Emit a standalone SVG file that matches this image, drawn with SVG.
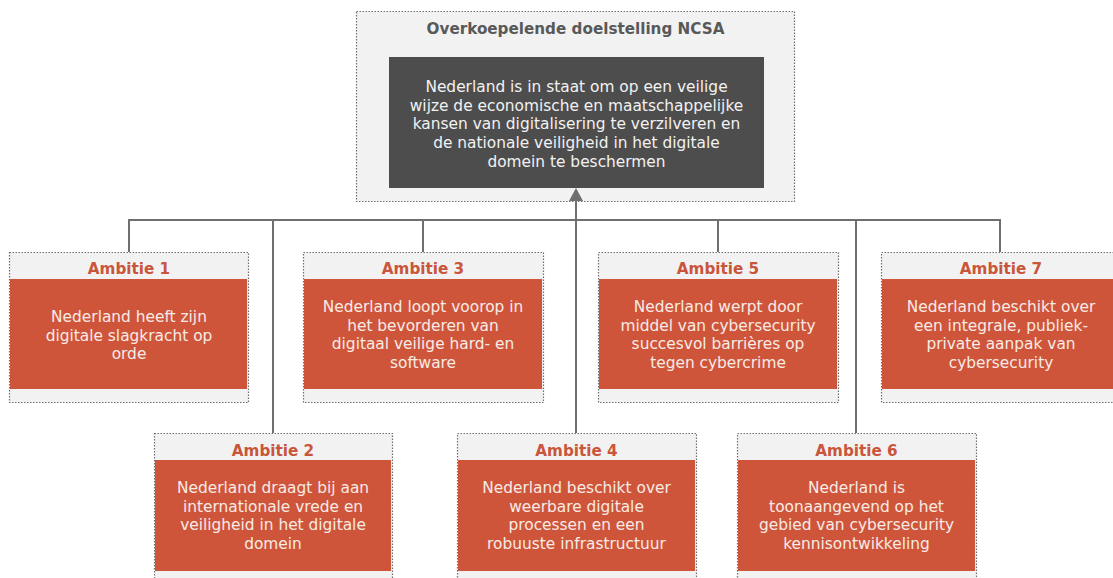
<svg xmlns="http://www.w3.org/2000/svg" width="1113" height="578" viewBox="0 0 1113 578">
<style>
.frame{fill:#f2f2f2;stroke:#6f6f6f;stroke-width:1.2;stroke-dasharray:1.5 1.5}
.org{fill:#cf553a}
.dark{fill:#4d4d4d}
.hd{font-family:"DejaVu Sans",Verdana,sans-serif;font-weight:bold;font-size:15.2px;fill:#c9553a;text-anchor:middle}
.ttl{font-family:"DejaVu Sans",Verdana,sans-serif;font-weight:bold;font-size:15.2px;fill:#595959;text-anchor:middle}
.bd{font-family:"DejaVu Sans",Verdana,sans-serif;font-size:15.4px;fill:#f7ebe6;text-anchor:middle}
.dk{font-family:"DejaVu Sans",Verdana,sans-serif;font-size:15.4px;fill:#f2f2f2;text-anchor:middle}
.ln{fill:none;stroke:#6f6f6f;stroke-width:2}
.ah{fill:#6f6f6f}
</style>
<g id="goal">
<rect class="frame" x="356.5" y="11.5" width="438" height="190"/>
<text class="ttl" x="575.5" y="34">Overkoepelende doelstelling NCSA</text>
<rect class="dark" x="389" y="57" width="375" height="131"/>
<text class="dk" x="576.5" y="92">Nederland is in staat om op een veilige</text>
<text class="dk" x="576.5" y="110.7">wijze de economische en maatschappelijke</text>
<text class="dk" x="576.5" y="129.4">kansen van digitalisering te verzilveren en</text>
<text class="dk" x="576.5" y="148.1">de nationale veiligheid in het digitale</text>
<text class="dk" x="576.5" y="166.8">domein te beschermen</text>
</g>
<g id="ambitie1">
<rect class="frame" x="9.5" y="252.5" width="239" height="150"/>
<text class="hd" x="129" y="274">Ambitie 1</text>
<rect class="org" x="10" y="279" width="237" height="110"/>
<text class="bd" x="129" y="322">Nederland heeft zijn</text>
<text class="bd" x="129" y="340.7">digitale slagkracht op</text>
<text class="bd" x="129" y="359.4">orde</text>
</g>
<g id="ambitie3">
<rect class="frame" x="303.5" y="252.5" width="240" height="150"/>
<text class="hd" x="423" y="274">Ambitie 3</text>
<rect class="org" x="304" y="279" width="238" height="110"/>
<text class="bd" x="423" y="312">Nederland loopt voorop in</text>
<text class="bd" x="423" y="330.7">het bevorderen van</text>
<text class="bd" x="423" y="349.4">digitaal veilige hard- en</text>
<text class="bd" x="423" y="368.1">software</text>
</g>
<g id="ambitie5">
<rect class="frame" x="598.5" y="252.5" width="240" height="150"/>
<text class="hd" x="718" y="274">Ambitie 5</text>
<rect class="org" x="599" y="279" width="238" height="110"/>
<text class="bd" x="718" y="312">Nederland werpt door</text>
<text class="bd" x="718" y="330.7">middel van cybersecurity</text>
<text class="bd" x="718" y="349.4">succesvol barrières op</text>
<text class="bd" x="718" y="368.1">tegen cybercrime</text>
</g>
<g id="ambitie7">
<rect class="frame" x="881.5" y="252.5" width="240" height="150"/>
<text class="hd" x="1001" y="274">Ambitie 7</text>
<rect class="org" x="882" y="279" width="238" height="110"/>
<text class="bd" x="1001" y="312">Nederland beschikt over</text>
<text class="bd" x="1001" y="330.7">een integrale, publiek-</text>
<text class="bd" x="1001" y="349.4">private aanpak van</text>
<text class="bd" x="1001" y="368.1">cybersecurity</text>
</g>
<g id="ambitie2">
<rect class="frame" x="154.5" y="433.5" width="238" height="160"/>
<text class="hd" x="273" y="456">Ambitie 2</text>
<rect class="org" x="155" y="460" width="236" height="111"/>
<text class="bd" x="273" y="493">Nederland draagt bij aan</text>
<text class="bd" x="273" y="511.7">internationale vrede en</text>
<text class="bd" x="273" y="530.4">veiligheid in het digitale</text>
<text class="bd" x="273" y="549.1">domein</text>
</g>
<g id="ambitie4">
<rect class="frame" x="457.5" y="433.5" width="239" height="160"/>
<text class="hd" x="576.5" y="456">Ambitie 4</text>
<rect class="org" x="458" y="460" width="237" height="111"/>
<text class="bd" x="576.5" y="493">Nederland beschikt over</text>
<text class="bd" x="576.5" y="511.7">weerbare digitale</text>
<text class="bd" x="576.5" y="530.4">processen en een</text>
<text class="bd" x="576.5" y="549.1">robuuste infrastructuur</text>
</g>
<g id="ambitie6">
<rect class="frame" x="737.5" y="433.5" width="239" height="160"/>
<text class="hd" x="856.5" y="456">Ambitie 6</text>
<rect class="org" x="738" y="460" width="237" height="111"/>
<text class="bd" x="856.5" y="493">Nederland is</text>
<text class="bd" x="856.5" y="511.7">toonaangevend op het</text>
<text class="bd" x="856.5" y="530.4">gebied van cybersecurity</text>
<text class="bd" x="856.5" y="549.1">kennisontwikkeling</text>
</g>
<g id="connectors">
<path class="ln" d="M129,252 V220 H1000 V252"/>
<path class="ln" d="M423,220 V252"/>
<path class="ln" d="M718,220 V252"/>
<path class="ln" d="M273,220 V433"/>
<path class="ln" d="M856,220 V433"/>
<path class="ln" d="M576,433 V200"/>
<path class="ah" d="M569,201 L576,188 L583,201 Z"/>
</g>
</svg>
